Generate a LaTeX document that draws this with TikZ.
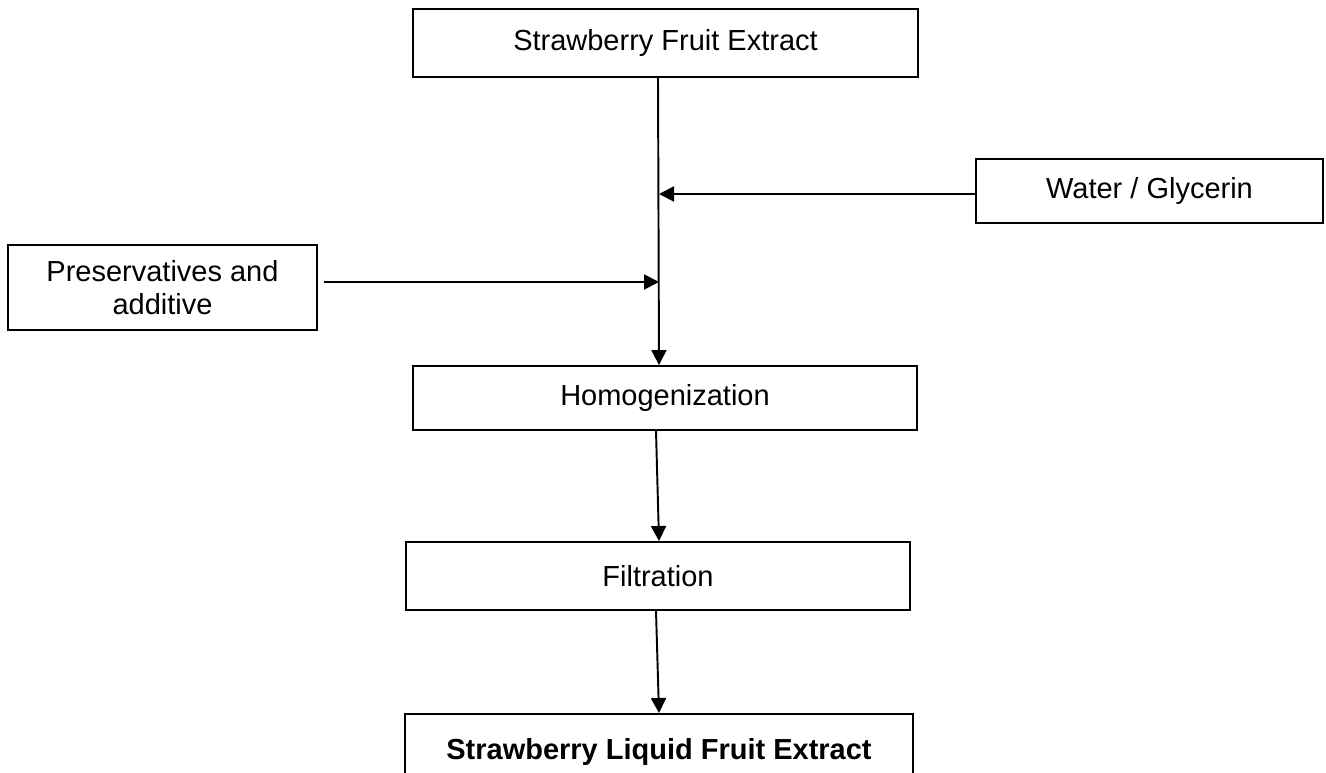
\documentclass[tikz,border=0pt]{standalone}
\usepackage{fontspec}
\setmainfont{Liberation Sans}
\usepackage{tikz}
\usetikzlibrary{arrows.meta}

\begin{document}
\begin{tikzpicture}[x=0.02cm, y=-0.02cm,
        box/.style={draw, line width=1.1pt, inner sep=0pt, align=center,
            font=\fontsize{16.5}{19}\selectfont},
        arr/.style={line width=1.1pt, -{Triangle[length=0.3cm, width=0.3cm]}}]
        \useasboundingbox (0,0) rectangle (1326,773);
        % Process steps
        \node[box, minimum width=10.1cm, minimum height=1.36cm] (extract) at (665.5,43) {Strawberry Fruit Extract};
        \node[box, minimum width=10.08cm, minimum height=1.28cm] (homog) at (665,398) {Homogenization};
        \node[box, minimum width=10.08cm, minimum height=1.36cm] (filt) at (658,576) {Filtration};
        \node[box, minimum width=10.16cm, minimum height=1.52cm, font=\fontsize{16.5}{19}\selectfont\bfseries] (liquid) at (659,752) {Strawberry Liquid Fruit Extract};
        % Inputs
        \node[box, minimum width=6.94cm, minimum height=1.28cm] (water) at (1149.5,191) {Water / Glycerin};
        \node[box, minimum width=6.18cm, minimum height=1.7cm] (pres) at (162.5,287.5) {Preservatives and\\additive};
        % Junctions on the main line
        \coordinate (jwater) at (659,194);
        \coordinate (jpres) at (659,282);
        % Draw arrows
        \draw[arr] ([xshift=-0.15cm]extract.south) -- ([xshift=-0.12cm]homog.north);
        \draw[arr] (water.west |- jwater) -- (jwater);
        \draw[arr, shorten <=0.12cm] (pres.east |- jpres) -- (jpres);
        \draw[arr] ([xshift=-0.18cm]homog.south) -- ([xshift=0.02cm]filt.north);
        \draw[arr] ([xshift=-0.04cm]filt.south) -- (liquid.north);
    \end{tikzpicture}
\end{document}
